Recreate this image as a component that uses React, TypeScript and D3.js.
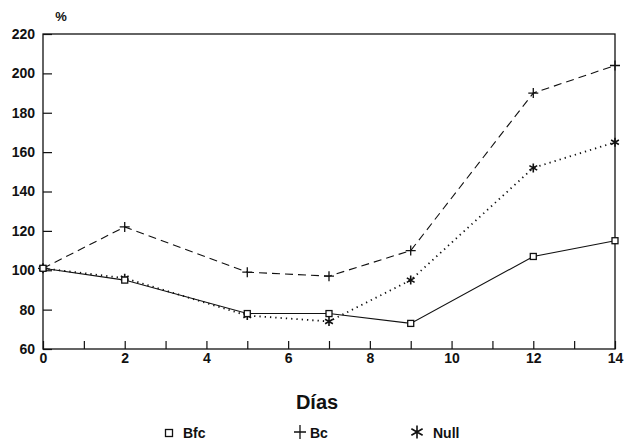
import * as d3 from 'd3';
import { useEffect, useRef } from 'react';

const days = [0, 2, 5, 7, 9, 12, 14];
const bfc = [101, 95, 78, 78, 73, 107, 115];
const bc = [101, 122, 99, 97, 110, 190, 204];
const nul = [101, 96, 77, 74, 95, 152, 165];
const yTicks = [60, 80, 100, 120, 140, 160, 180, 200, 220];
const xLabels = [0, 2, 4, 6, 8, 10, 12, 14];

const W = 636;
const H = 441;

const App = () => {
  const ref = useRef<SVGSVGElement>(null);

  useEffect(() => {
    const svg = d3.select(ref.current);
    svg.selectAll('*').remove();

    const x = d3.scaleLinear().domain([0, 14]).range([43, 615]);
    const y = d3.scaleLinear().domain([60, 220]).range([349, 34]);
    const font = 'Arial, "Liberation Sans", sans-serif';

    // frame
    svg
      .append('rect')
      .attr('x', x(0))
      .attr('y', y(220))
      .attr('width', x(14) - x(0))
      .attr('height', y(60) - y(220))
      .attr('fill', 'none')
      .attr('stroke', '#111')
      .attr('stroke-width', 1.3);

    // y axis ticks (inward)
    const yAxis = d3
      .axisLeft(y)
      .tickValues(yTicks)
      .tickSizeInner(-9)
      .tickSizeOuter(0)
      .tickPadding(8);
    const gy = svg.append('g').attr('transform', `translate(${x(0)},0)`).call(yAxis);
    gy.select('.domain').remove();
    gy.selectAll('line').attr('stroke', '#111').attr('stroke-width', 1.2);
    gy.selectAll('text')
      .attr('font-family', font)
      .attr('font-size', 14)
      .attr('font-weight', 'bold')
      .attr('fill', '#111');

    // x axis ticks (inward) every day, labels every 2
    const xAxis = d3
      .axisBottom(x)
      .tickValues(d3.range(0, 15))
      .tickSizeInner(-8)
      .tickSizeOuter(0)
      .tickPadding(4)
      .tickFormat((d) => (xLabels.includes(+d) ? String(d) : ''));
    const gx = svg.append('g').attr('transform', `translate(0,${y(60)})`).call(xAxis);
    gx.select('.domain').remove();
    gx.selectAll('line').attr('stroke', '#111').attr('stroke-width', 1.2);
    gx.selectAll('text')
      .attr('font-family', font)
      .attr('font-size', 14)
      .attr('font-weight', 'bold')
      .attr('fill', '#111');

    const line = d3
      .line<number>()
      .x((_, i) => x(days[i]))
      .y((d) => y(d));

    const series = [
      { values: bc, dash: '8,5', width: 1.1 },
      { values: nul, dash: '1.3,4', width: 1.8 },
      { values: bfc, dash: null, width: 1.1 },
    ];

    series.forEach((s) => {
      svg
        .append('path')
        .datum(s.values)
        .attr('d', line)
        .attr('fill', 'none')
        .attr('stroke', '#111')
        .attr('stroke-width', s.width)
        .attr('stroke-dasharray', s.dash);
    });

    const plus = (g, cx, cy, r, ry = r) => {
      g.append('path')
        .attr('d', `M${cx - r},${cy}H${cx + r}M${cx},${cy - ry}V${cy + ry}`)
        .attr('stroke', '#111')
        .attr('stroke-width', 1.3)
        .attr('fill', 'none');
    };
    const star = (g, cx, cy, r) => {
      let d = `M${cx},${cy - r}V${cy + r}`;
      [30, 150].forEach((a) => {
        const dx = r * Math.cos((a * Math.PI) / 180);
        const dy = r * Math.sin((a * Math.PI) / 180);
        d += `M${cx - dx},${cy - dy}L${cx + dx},${cy + dy}`;
      });
      g.append('path')
        .attr('d', d)
        .attr('stroke', '#111')
        .attr('stroke-width', 1.6)
        .attr('fill', 'none');
    };
    const square = (g, cx, cy, s) => {
      g.append('rect')
        .attr('x', cx - s / 2)
        .attr('y', cy - s / 2)
        .attr('width', s)
        .attr('height', s)
        .attr('fill', '#fff')
        .attr('stroke', '#111')
        .attr('stroke-width', 1.3);
    };

    const marks = svg.append('g');
    days.forEach((d, i) => {
      plus(marks, x(d), y(bc[i]), 5);
      star(marks, x(d), y(nul[i]), 4.5);
      square(marks, x(d), y(bfc[i]), 6);
    });

    // labels
    svg
      .append('text')
      .attr('x', 61)
      .attr('y', 21)
      .attr('text-anchor', 'middle')
      .attr('font-family', font)
      .attr('font-size', 13)
      .attr('font-weight', 'bold')
      .attr('fill', '#111')
      .text('%');

    svg
      .append('text')
      .attr('x', 317)
      .attr('y', 409)
      .attr('text-anchor', 'middle')
      .attr('font-family', font)
      .attr('font-size', 20)
      .attr('font-weight', 'bold')
      .attr('fill', '#111')
      .text('Días');

    const legend = svg.append('g');
    square(legend, 169, 433, 7);
    plus(legend, 300, 432, 6, 7);
    star(legend, 417, 432, 6.5);
    [
      { tx: 183, label: 'Bfc' },
      { tx: 310, label: 'Bc' },
      { tx: 433, label: 'Null' },
    ].forEach((l) => {
      legend
        .append('text')
        .attr('x', l.tx)
        .attr('y', 438)
        .attr('font-family', font)
        .attr('font-size', 14)
        .attr('font-weight', 'bold')
        .attr('fill', '#111')
        .text(l.label);
    });
  }, []);

  return (
    <svg
      ref={ref}
      width={W}
      height={H}
      style={{ position: 'absolute', left: 0, top: 0, background: '#fff' }}
    ></svg>
  );
};

export default App;
